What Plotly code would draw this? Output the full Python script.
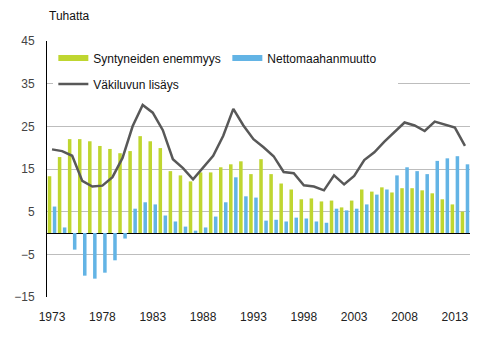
import plotly.graph_objects as go

# Vuodet 1973-2014
years = list(range(1973, 2015))

# Syntyneiden enemmyys (tuhatta)
natural_increase = [
    13.3, 17.8, 22.0, 22.0, 21.5, 20.4, 19.7, 18.7, 19.2, 22.7,
    21.5, 19.9, 14.5, 13.5, 12.1, 14.2, 14.2, 15.4, 16.1, 16.8,
    13.8, 17.3, 13.8, 11.6, 10.2, 7.9, 8.1, 7.4, 7.6, 6.0,
    7.6, 10.2, 9.7, 10.7, 9.5, 10.5, 10.5, 10.0, 9.3, 7.9,
    6.7, 5.0,
]

# Nettomaahanmuutto (tuhatta)
net_migration = [
    6.2, 1.3, -3.9, -10.0, -10.7, -9.3, -6.4, -1.3, 5.7, 7.2,
    6.7, 4.1, 2.7, 1.5, 0.55, 1.3, 3.85, 7.2, 13.05, 8.6,
    8.3, 2.9, 3.1, 2.7, 3.6, 3.4, 2.7, 2.4, 5.7, 5.3,
    5.7, 6.7, 9.0, 10.2, 13.5, 15.4, 14.5, 13.8, 16.9, 17.5,
    18.0, 16.1,
]

# Väkiluvun lisäys (tuhatta)
population_growth = [
    19.6, 19.2, 18.1, 12.2, 10.9, 11.1, 13.1, 17.6, 25.0, 30.0,
    28.2, 24.1, 17.3, 15.2, 12.6, 15.3, 18.1, 22.8, 29.1, 25.2,
    22.0, 20.1, 18.0, 14.3, 14.0, 11.2, 10.9, 10.0, 13.5, 11.4,
    13.4, 17.1, 18.9, 21.4, 23.7, 25.9, 25.2, 23.9, 26.1, 25.4,
    24.7, 20.4,
]

x_tick_years = list(range(1973, 2014, 5))

GREEN = "#BFD630"
BLUE = "#63B4E5"
LINE = "#585858"
FONT = "Liberation Sans, Arial, sans-serif"

fig = go.Figure()

fig.add_trace(go.Bar(
    x=years, y=natural_increase, name="Syntyneiden enemmyys",
    marker=dict(color=GREEN, line=dict(width=0)), showlegend=False,
))
fig.add_trace(go.Bar(
    x=years, y=net_migration, name="Nettomaahanmuutto",
    marker=dict(color=BLUE, line=dict(width=0)), showlegend=False,
))
fig.add_trace(go.Scatter(
    x=years, y=population_growth, name="Väkiluvun lisäys",
    mode="lines", line=dict(color=LINE, width=2.5), showlegend=False,
))

# Legend entries: flat bar swatches in the first row, the line in the second
fig.add_trace(go.Scatter(
    x=[None], y=[None], mode="lines", name="Syntyneiden enemmyys",
    line=dict(color=GREEN, width=6), legend="legend",
))
fig.add_trace(go.Scatter(
    x=[None], y=[None], mode="lines", name="Nettomaahanmuutto",
    line=dict(color=BLUE, width=6), legend="legend",
))
fig.add_trace(go.Scatter(
    x=[None], y=[None], mode="lines", name="Väkiluvun lisäys",
    line=dict(color=LINE, width=2.5), legend="legend2",
))

fig.update_layout(
    width=491, height=339,
    margin=dict(l=47, r=21, t=41, b=42),
    paper_bgcolor="white", plot_bgcolor="white",
    font=dict(family=FONT, size=12, color="#222222"),
    barmode="group", bargap=0.0, bargroupgap=0.3,
    legend=dict(
        orientation="h", x=0.015, xanchor="left", y=0.934, yanchor="middle",
        bgcolor="white", entrywidth=129, entrywidthmode="pixels",
        font=dict(family=FONT, size=12, color="#111111"),
        itemclick=False, itemdoubleclick=False,
    ),
    legend2=dict(
        orientation="h", x=0.015, xanchor="left", y=0.832, yanchor="middle",
        bgcolor="white", entrywidth=300, entrywidthmode="pixels",
        font=dict(family=FONT, size=12, color="#111111"),
        itemclick=False, itemdoubleclick=False,
    ),
    annotations=[dict(
        text="Tuhatta", xref="paper", yref="paper", x=0, y=1.0977,
        xanchor="left", yanchor="middle", showarrow=False,
        font=dict(family=FONT, size=12, color="#111111"),
    )],
)

fig.update_xaxes(
    range=[1972.5, 2014.5], tickmode="array", tickvals=x_tick_years,
    ticktext=[str(v) for v in x_tick_years],
    showgrid=False, zeroline=False, showline=False,
    ticks="outside", ticklen=9, tickcolor="rgba(0,0,0,0)",
    tickfont=dict(family=FONT, size=12, color="#222222"),
)
fig.update_yaxes(
    range=[-15, 45], tick0=-15, dtick=10,
    showgrid=True, gridcolor="#BDBDBD", gridwidth=1,
    zeroline=True, zerolinecolor="#000000", zerolinewidth=1,
    showline=True, linecolor="#000000", linewidth=1,
    ticks="outside", ticklen=9, tickcolor="rgba(0,0,0,0)",
    tickfont=dict(family=FONT, size=12, color="#444444"),
)

fig.write_html("out.html")
